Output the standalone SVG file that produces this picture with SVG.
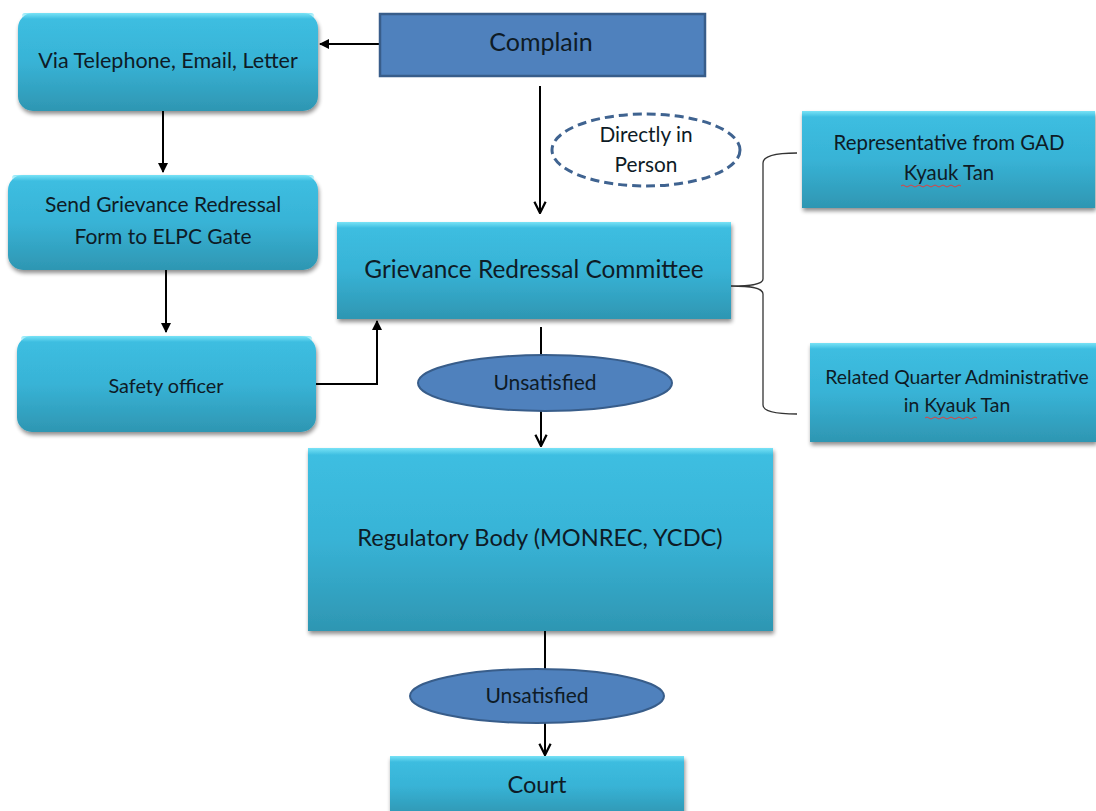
<svg xmlns="http://www.w3.org/2000/svg" width="1096" height="811" viewBox="0 0 1096 811">
  <defs>
    <linearGradient id="cyan" x1="0" y1="0" x2="0" y2="1">
      <stop offset="0" stop-color="#3dbfe2"/>
      <stop offset="0.5" stop-color="#38b3d6"/>
      <stop offset="1" stop-color="#2e96b2"/>
    </linearGradient>
    <linearGradient id="bevel" x1="0" y1="0" x2="0" y2="1">
      <stop offset="0" stop-color="#7fe6f8" stop-opacity="0.9"/>
      <stop offset="1" stop-color="#7fe6f8" stop-opacity="0"/>
    </linearGradient>
    <filter id="shadow" x="-5%" y="-5%" width="112%" height="118%">
      <feGaussianBlur in="SourceAlpha" stdDeviation="2"/>
      <feOffset dx="1" dy="3" result="b"/>
      <feComponentTransfer><feFuncA type="linear" slope="0.45"/></feComponentTransfer>
      <feMerge><feMergeNode/><feMergeNode in="SourceGraphic"/></feMerge>
    </filter>
    <marker id="tri" viewBox="0 0 10 10" refX="9" refY="5" markerWidth="5" markerHeight="5" orient="auto">
      <path d="M0,0 L10,5 L0,10 z" fill="#000"/>
    </marker>
    <marker id="vee" viewBox="0 0 10 10" refX="9" refY="5" markerWidth="7" markerHeight="7" orient="auto">
      <path d="M1,1 L9,5 L1,9" fill="none" stroke="#000" stroke-width="1.6"/>
    </marker>
  </defs>
  <style>
    .box { fill: url(#cyan); filter: url(#shadow); }
    .hl { fill: url(#bevel); }
    .lbl { font-family: Lato, "Noto Sans", sans-serif; fill: #0e1b26; text-anchor: middle; }
    .conn { fill: none; stroke: #000; stroke-width: 2; }
    .oval { fill: #4f81bd; stroke: #385d8a; stroke-width: 2; }
    .squig { fill: none; stroke: #e04040; stroke-width: 1; }
  </style>
  <rect width="1096" height="811" fill="#fff"/>

  <g id="connectors">
    <line class="conn" x1="379" y1="44" x2="320" y2="44" marker-end="url(#tri)"/>
    <line class="conn" x1="540" y1="86" x2="540" y2="213" marker-end="url(#vee)"/>
    <line class="conn" x1="163" y1="111" x2="163" y2="172" marker-end="url(#tri)"/>
    <line class="conn" x1="166" y1="270" x2="166" y2="332" marker-end="url(#tri)"/>
    <polyline class="conn" points="316,384 377,384 377,321" marker-end="url(#tri)"/>
    <line class="conn" x1="541" y1="327" x2="541" y2="356"/>
    <line class="conn" x1="541" y1="410" x2="541" y2="446" marker-end="url(#vee)"/>
    <line class="conn" x1="545" y1="631" x2="545" y2="670"/>
    <line class="conn" x1="545" y1="723" x2="545" y2="755" marker-end="url(#vee)"/>
    <path fill="none" stroke="#333" stroke-width="1.3" d="M731,286 C748,286 763,285 763,279 L763,163 C763,156 775,153 797,153 M731,286 C748,286 763,287 763,294 L763,405 C763,411 775,414 797,414"/>
  </g>

  <g id="complain">
    <rect x="380" y="14" width="325" height="62" fill="#4f81bd" stroke="#385d8a" stroke-width="2.5"/>
    <text class="lbl" x="541" y="51" font-size="25">Complain</text>
  </g>

  <g id="via-telephone">
    <rect class="box" x="18" y="13" width="300" height="98" rx="15"/>
    <rect class="hl" x="22" y="13" width="292" height="6" rx="3"/>
    <text class="lbl" x="168" y="68" font-size="21.5">Via Telephone, Email, Letter</text>
  </g>

  <g id="directly-in-person">
    <ellipse cx="646" cy="150" rx="94" ry="36" fill="#fff" stroke="#3f6390" stroke-width="3" stroke-dasharray="9,5"/>
    <text class="lbl" x="646" y="142" font-size="20.8">Directly in</text>
    <text class="lbl" x="646" y="172" font-size="20.8">Person</text>
  </g>

  <g id="send-form">
    <rect class="box" x="8" y="175" width="310" height="95" rx="15"/>
    <rect class="hl" x="12" y="175" width="302" height="6" rx="3"/>
    <text class="lbl" x="163" y="212" font-size="21">Send Grievance Redressal</text>
    <text class="lbl" x="163" y="244" font-size="21">Form to ELPC Gate</text>
  </g>

  <g id="safety-officer">
    <rect class="box" x="17" y="336" width="299" height="96" rx="15"/>
    <rect class="hl" x="21" y="336" width="291" height="6" rx="3"/>
    <text class="lbl" x="166" y="393" font-size="19.9">Safety officer</text>
  </g>

  <g id="grievance-committee">
    <rect class="box" x="337" y="222" width="394" height="97"/>
    <rect class="hl" x="337" y="222" width="394" height="6"/>
    <text class="lbl" x="534" y="278" font-size="24.4">Grievance Redressal Committee</text>
  </g>

  <g id="gad-representative">
    <rect class="box" x="802" y="111" width="293" height="97"/>
    <rect class="hl" x="802" y="111" width="293" height="6"/>
    <text class="lbl" x="949" y="150" font-size="20.4">Representative from GAD</text>
    <text class="lbl" x="949" y="180" font-size="20.4">Kyauk Tan</text>
    <path class="squig" d="M901,186 q2,-2 4,0 t4,0 t4,0 t4,0 t4,0 t4,0 t4,0 t4,0 t4,0 t4,0 t4,0 t4,0 t4,0 t4,0 t4,0"/>
  </g>

  <g id="quarter-administrative">
    <rect class="box" x="810" y="343" width="286" height="99"/>
    <rect class="hl" x="810" y="343" width="286" height="6"/>
    <text class="lbl" x="957" y="384" font-size="19.4">Related Quarter Administrative</text>
    <text class="lbl" x="957" y="412" font-size="19.4">in Kyauk Tan</text>
    <path class="squig" d="M925,418 q2,-2 4,0 t4,0 t4,0 t4,0 t4,0 t4,0 t4,0 t4,0 t4,0 t4,0 t4,0 t4,0 t4,0"/>
  </g>

  <g id="unsatisfied-1">
    <ellipse class="oval" cx="545" cy="383" rx="127" ry="28"/>
    <text class="lbl" x="545" y="390" font-size="21">Unsatisfied</text>
  </g>

  <g id="regulatory-body">
    <rect class="box" x="308" y="448" width="465" height="183"/>
    <rect class="hl" x="308" y="448" width="465" height="7"/>
    <text class="lbl" x="540" y="546" font-size="23.6">Regulatory Body (MONREC, YCDC)</text>
  </g>

  <g id="unsatisfied-2">
    <ellipse class="oval" cx="537" cy="696" rx="127" ry="27"/>
    <text class="lbl" x="537" y="703" font-size="21">Unsatisfied</text>
  </g>

  <g id="court">
    <rect class="box" x="390" y="756" width="294" height="60"/>
    <rect class="hl" x="390" y="756" width="294" height="6"/>
    <text class="lbl" x="537" y="793" font-size="23.6">Court</text>
  </g>
</svg>
